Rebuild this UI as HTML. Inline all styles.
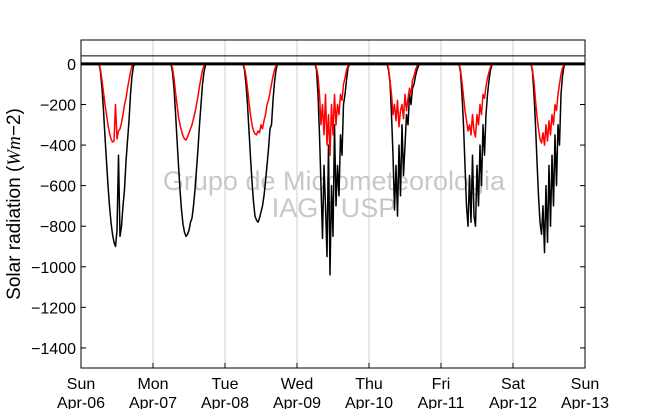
<!DOCTYPE html>
<html><head><meta charset="utf-8"><style>
body{margin:0;background:#fff;}
svg{display:block;font-family:"Liberation Sans","DejaVu Sans",sans-serif;}
</style></head><body>
<svg id="c" width="650" height="409"></svg>
<script>
const yTicks=[0,-200,-400,-600,-800,-1000,-1200,-1400];
const dayNames=["Sun","Mon","Tue","Wed","Thu","Fri","Sat","Sun"];
const dayDates=["Apr-06","Apr-07","Apr-08","Apr-09","Apr-10","Apr-11","Apr-12","Apr-13"];
const hours=[6,6.5,7,7.5,8,8.5,9,9.5,10,10.5,11,11.5,12,12.5,13,13.5,14,14.5,15,15.5,16,16.5,17,17.5,18.2];
const blackSeries=[
[0,-40,-120,-230,-360,-480,-600,-700,-780,-840,-880,-900,-820,-450,-850,-800,-700,-620,-480,-380,-280,-150,-60,-10,0],
[0,-40,-120,-240,-370,-500,-620,-720,-790,-830,-850,-840,-820,-780,-760,-700,-620,-520,-420,-300,-200,-100,-40,-5,0],
[0,-30,-100,-200,-330,-460,-580,-680,-750,-770,-780,-760,-730,-700,-650,-580,-500,-420,-320,-300,-180,-90,-30,0,0],
[0,-30,-150,-350,-600,-860,-500,-700,-950,-400,-1040,-600,-850,-300,-700,-500,-650,-350,-450,-200,-150,-80,-20,0,0],
[0,-30,-90,-250,-450,-720,-500,-750,-400,-650,-300,-550,-400,-250,-300,-150,-200,-120,-100,-60,-30,-10,0,0,0],
[0,-40,-150,-300,-500,-700,-800,-550,-780,-450,-750,-800,-500,-700,-400,-600,-300,-450,-250,-150,-80,-30,-5,0,0],
[0,-40,-150,-300,-480,-650,-780,-840,-700,-930,-600,-880,-500,-800,-450,-700,-350,-600,-300,-400,-150,-60,-10,0,0]];
const redSeries=[
[0,-30,-80,-140,-200,-250,-300,-340,-370,-385,-380,-200,-370,-330,-320,-290,-250,-200,-170,-120,-80,-40,-10,0,0],
[0,-20,-70,-140,-200,-260,-300,-330,-355,-370,-375,-360,-340,-320,-300,-270,-240,-200,-160,-110,-70,-30,-10,0,0],
[0,-20,-60,-120,-190,-250,-300,-330,-345,-350,-330,-340,-300,-320,-280,-250,-200,-180,-140,-100,-60,-30,-10,0,0],
[0,-20,-60,-150,-300,-200,-350,-150,-400,-250,-450,-200,-350,-150,-300,-200,-250,-150,-180,-100,-70,-30,-10,0,0],
[0,-20,-80,-150,-250,-200,-280,-180,-310,-230,-200,-270,-150,-230,-170,-120,-150,-80,-60,-30,-10,0,0,0,0],
[0,-30,-90,-160,-230,-280,-330,-300,-350,-250,-330,-360,-250,-300,-200,-250,-150,-170,-110,-70,-40,-15,0,0,0],
[0,-30,-90,-180,-260,-320,-370,-390,-340,-400,-300,-380,-280,-350,-250,-300,-200,-230,-150,-100,-50,-20,-5,0,0]];
const refLineValue=40;

const svg=document.getElementById('c');
const NS='http://www.w3.org/2000/svg';
const L=81,R=585,T=40,B=368,YMAX=118,YMIN=-1499;
const x=h=>L+(R-L)*h/168;
const y=v=>T+(B-T)*(YMAX-v)/(YMAX-YMIN);
function mk(tag,attrs,parent){const e=document.createElementNS(NS,tag);for(const k in attrs)e.setAttribute(k,attrs[k]);(parent||svg).appendChild(e);return e;}

dayNames.forEach((d,i)=>{if(i>0&&i<7){const g=mk('line',{x1:x(i*24),x2:x(i*24),y1:T,y2:B,stroke:'#ccc','stroke-width':1});

}});

const w1=mk('text',{x:334,y:190,'text-anchor':'middle','font-size':27,fill:'#c8c8c8'});w1.textContent='Grupo de Micrometeorologia';


const w2=mk('text',{x:334,y:217,'text-anchor':'middle','font-size':27,fill:'#c8c8c8'});w2.textContent='IAG / USP';



function series(arr,color,name){arr.forEach((vals,d)=>{
  const pts=vals.map((v,i)=>x(d*24+hours[i]).toFixed(1)+','+y(v).toFixed(1)).join(' ');
  const p=mk('polyline',{points:pts,fill:'none',stroke:color,'stroke-width':1.5,'stroke-linejoin':'round'});
  
  
});}
series(blackSeries,'#000','global-radiation');
series(redSeries,'#f00','diffuse-radiation');

const z=mk('line',{x1:L,x2:R,y1:y(0),y2:y(0),stroke:'#000','stroke-width':3});


const rl=mk('line',{x1:L,x2:R,y1:y(refLineValue),y2:y(refLineValue),stroke:'#000','stroke-width':1});



const fr=mk('rect',{x:L,y:T,width:R-L,height:B-T,fill:'none',stroke:'#000','stroke-width':1});



yTicks.forEach(v=>{
  const t=mk('line',{x1:L,x2:L+5,y1:y(v),y2:y(v),stroke:'#000'});
  
  
  const t2=mk('line',{x1:R-5,x2:R,y1:y(v),y2:y(v),stroke:'#000'});
  
  
  const lb=mk('text',{x:L-5,y:y(v)+6,'text-anchor':'end','font-size':16,fill:'#000'});lb.textContent=v===0?'0':'\u2212'+Math.abs(v);
  
  
});
dayNames.forEach((d,i)=>{
  const t=mk('line',{x1:x(i*24),x2:x(i*24),y1:B-5,y2:B,stroke:'#000'});
  
  
  const a=mk('text',{x:x(i*24),y:389,'text-anchor':'middle','font-size':16,fill:'#000'});a.textContent=d;
  
  
  const b=mk('text',{x:x(i*24),y:408,'text-anchor':'middle','font-size':16,fill:'#000'});b.textContent=dayDates[i];
  
  
});
const yt=mk('text',{transform:'translate(20,204) rotate(-90)','text-anchor':'middle','font-size':19,fill:'#000'});
yt.innerHTML='Solar radiation (<tspan font-style="italic" font-family="Liberation Serif, serif">Wm</tspan>−2)';


</script>
</body></html>
